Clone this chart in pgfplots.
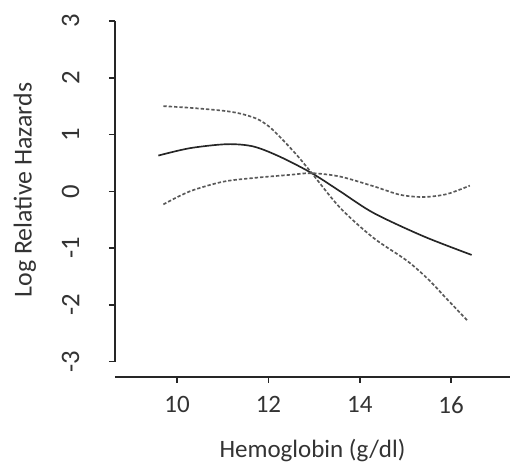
\documentclass[border=0pt]{standalone}
\usepackage{fontspec}
\setmainfont{Carlito}
\usepackage{pgfplots}
\pgfplotsset{compat=1.18}
\begin{document}
\begin{tikzpicture}
\begin{axis}[
  name=ax,
  scale only axis,
  width=237pt, height=213.6pt,
  xmin=8.64, xmax=17.29, ymin=-3.27, ymax=3.0,
  axis x line=bottom, axis y line=left,
  x axis line style={-, line width=0.9pt, black!85},
  y axis line style={draw=none},
  xtick={10,12,14,16}, ytick={-3,-2,-1,0,1,2,3},
  tick align=outside,
  major tick length=3.6pt,
  tick style={line width=0.9pt, black!85},
  /pgf/number format/assume math mode=true,
  tick label style={font=\fontsize{15}{18}\selectfont, text=black!80},
  xticklabel style={anchor=center, yshift=-13pt},
  yticklabel style={xshift=-23pt, rotate=90, anchor=center, font=\fontsize{16}{18}\selectfont},
  xlabel={Hemoglobin (g/dl)},
  ylabel={Log Relative Hazards},
  every axis x label/.style={at={(axis description cs:0.5,0)}, anchor=center, yshift=-44pt, font=\fontsize{15}{18}\selectfont, text=black!80},
  every axis y label/.style={at={(axis description cs:0,0.525)}, xshift=-54pt, rotate=90, anchor=center, font=\fontsize{15.5}{18}\selectfont, text=black!80},
  clip=false,
]
\draw[line width=0.9pt, black!85] (axis cs:8.64,-3) -- (axis cs:8.64,3);
\addplot[smooth, line width=1pt, color=black!85] coordinates {
 (9.59,0.63) (10.28,0.76) (11.09,0.83) (11.67,0.79) (12.25,0.61)
 (12.95,0.32) (13.57,0.0) (14.30,-0.38) (15.39,-0.79) (16.45,-1.12)
};
\addplot[smooth, line width=1pt, color=black!65, dash pattern=on 2pt off 1.2pt] coordinates {
 (9.70,1.50) (10.3,1.47) (11.0,1.42) (11.38,1.37) (11.74,1.28) (12.0,1.15)
 (12.25,0.96) (12.62,0.64) (12.95,0.32) (13.57,-0.29) (14.30,-0.82)
 (15.03,-1.22) (15.50,-1.55) (15.90,-1.89) (16.35,-2.27)
};
\addplot[smooth, line width=1pt, color=black!65, dash pattern=on 2pt off 1.2pt] coordinates {
 (9.70,-0.23) (10.28,0.0) (11.01,0.17) (11.74,0.24) (12.47,0.29) (12.95,0.32)
 (13.57,0.26) (14.30,0.09) (14.88,-0.06) (15.39,-0.10) (15.90,-0.05) (16.41,0.10)
};
\end{axis}
\pgfresetboundingbox
\path (ax.south west) ++(-69pt,-51pt) coordinate (bl);
\path (ax.north east) ++(0pt,12.6pt) coordinate (tr);
\path[use as bounding box] (bl) rectangle (tr);
\end{tikzpicture}
\end{document}
